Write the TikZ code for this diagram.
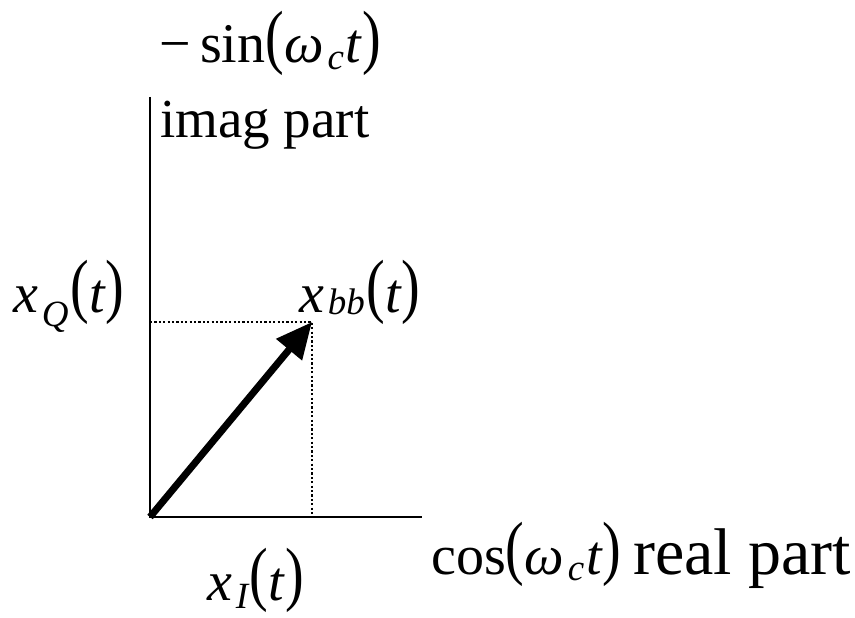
\documentclass[tikz,border=0pt]{standalone}
\usepackage{fontspec}
\usepackage{graphicx}
\setmainfont{Liberation Serif}
\usetikzlibrary{arrows.meta}
\newcommand{\lsub}[2]{\kern0.07em\raisebox{-#1em}{\fontsize{37}{40}\selectfont\itshape #2}\kern0.03em}
\newcommand{\tallp}[1]{\raisebox{0.04em}{\scalebox{1}[1.27]{#1}}}
\begin{document}
\begin{tikzpicture}[x=1pt,y=-1pt,
  axis/.style={line width=2.5pt},
  guide/.style={line width=2.2pt,dash pattern=on 2.2pt off 2.2pt},
  vec/.style={line width=7pt,-{Triangle[length=36pt,width=32pt]}},
  lbl/.style={anchor=base west,inner sep=0pt,font=\fontsize{56}{68}\selectfont},
  wrd/.style={anchor=base west,inner sep=0pt}]
\useasboundingbox (0,0) rectangle (855,618);
\coordinate (O) at (150,517);
\coordinate (T) at (150,97);
\coordinate (R) at (422,517);
\coordinate (P) at (312,322);
\coordinate (PQ) at (150,322);
\coordinate (PI) at (312,517);
\draw[axis] (T) -- (O) -- (R);
\draw[guide] (PQ) -- (P) -- (PI);
\draw[vec] (O) -- (P);
\node[lbl] (sinl) at (159,63) {−\,sin\tallp{(}\textit{ω}\lsub{0.12}{c}\textit{t}\tallp{)}};
\node[wrd,font=\fontsize{55}{66}\selectfont] (imag) at (160,138) {imag part};
\node[lbl] (xq) at (13,312) {\textit{x}\lsub{0.25}{Q}\tallp{(}\textit{t}\tallp{)}};
\node[lbl] (xbb) at (299,312) {\textit{x}\lsub{0.05}{bb}\tallp{(}\textit{t}\tallp{)}};
\node[lbl] (cosl) at (431,574) {cos\tallp{(}\textit{ω}\lsub{0.12}{c}\textit{t}\tallp{)}};
\node[wrd,font=\fontsize{66}{79}\selectfont] (real) at (633,574) {real part};
\node[lbl] (xi) at (207,600) {\textit{x}\lsub{0.15}{I}\tallp{(}\textit{t}\tallp{)}};
\end{tikzpicture}
\end{document}
